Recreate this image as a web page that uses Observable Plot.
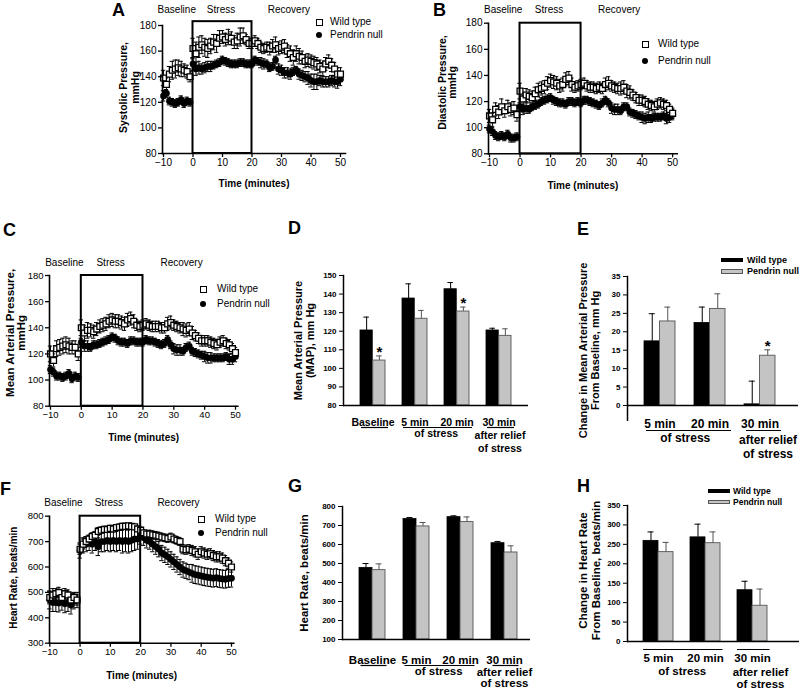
<!DOCTYPE html>
<html><head><meta charset="utf-8">
<script src="https://cdn.jsdelivr.net/npm/d3@7"></script>
<script src="https://cdn.jsdelivr.net/npm/@observablehq/plot@0.6"></script>
<style>
html,body{margin:0;padding:0;background:#fff;}
#fig{position:relative;width:800px;height:690px;overflow:hidden;background:#fff;font-family:"Liberation Sans",Arial,Helvetica,sans-serif;color:#000;}
#fig .p{position:absolute;}
#fig .t{position:absolute;white-space:nowrap;color:#000;}
</style></head><body><div id="fig"></div>
<script>
// ---------------- data ----------------
const time = [-10,-9,-8,-7,-6,-5,-4,-3,-2,-1,0,1,2,3,4,5,6,7,8,9,10,11,12,13,14,15,16,17,18,19,20,21,22,23,24,25,26,27,28,29,30,31,32,33,34,35,36,37,38,39,40,41,42,43,44,45,46,47,48,49,50];
const stressWindow = [0, 20];
const phaseLabels = ["Baseline", "Stress", "Recovery"];
const phaseX = [-5.5, 9.5, 32.5];
const timeTicks = [-10, 0, 10, 20, 30, 40, 50];
const xTitle = "Time (minutes)";
const seriesNames = ["Wild type", "Pendrin null"];

// A: systolic pressure
const sysWT = [139,134,142,145,146,147,146,145,144,140,162,158,163,165,163,162,164,167,166,170,171,169,171,170,167,168,171,172,169,166,166,168,166,163,162,163,162,164,165,162,163,164,160,158,155,158,156,155,152,153,152,151,150,148,146,150,152,149,146,142,142];
const sysWTse = [6,5,6,7,7,6,6,5,5,4,8,9,8,7,7,7,6,6,7,6,5,5,6,5,5,6,7,6,4,4,4,4,4,4,4,4,5,5,6,5,5,5,5,6,6,6,6,5,5,5,5,5,5,5,5,5,5,5,5,5,5];
const sysKO = [125,127,121,120,119,120,122,119,121,120,150,146,147,146,147,148,148,149,150,151,153,152,151,150,150,150,151,151,150,150,150,153,152,151,150,150,147,148,153,146,145,143,143,142,144,145,142,141,140,139,137,136,136,137,136,136,136,137,136,136,138];
const sysKOse = [4,3,3,3,3,3,3,3,3,3,5,5,5,4,4,4,4,3,3,3,3,3,3,3,3,3,3,3,3,3,3,3,3,4,4,3,3,3,3,4,4,4,4,4,3,3,4,4,4,5,5,6,6,4,4,4,4,4,4,5,5];

// B: diastolic pressure
const diaWT = [109,106,114,112,116,113,116,114,115,110,128,122,125,124,123,126,129,130,131,134,136,135,134,132,133,137,138,133,131,132,133,134,132,131,131,130,131,130,133,134,132,131,130,130,131,128,127,125,123,121,121,120,118,117,116,118,119,118,117,114,111];
const diaWTse = [5,5,5,5,6,5,5,5,5,5,6,5,5,5,5,5,5,5,5,5,5,5,5,5,5,5,5,5,4,4,4,4,4,4,4,4,4,4,5,5,4,4,4,5,5,5,5,4,4,4,4,4,4,4,4,4,4,4,4,4,4];
const diaKO = [99,97,94,93,94,93,95,92,92,93,116,114,115,114,116,117,118,120,121,122,123,121,120,119,119,118,120,120,119,120,119,121,121,120,119,118,117,119,121,119,115,114,114,113,116,116,112,111,110,109,108,107,108,107,108,108,108,109,107,108,110];
const diaKOse = [3,3,3,3,3,3,3,3,3,3,3,4,4,3,3,3,3,3,3,3,3,3,3,3,3,3,3,3,3,3,3,3,3,3,3,3,3,3,3,3,4,4,4,3,3,3,3,3,3,3,4,4,4,3,3,3,3,3,4,4,4];

// C: mean arterial pressure
const mapWT = [120,115,124,125,126,127,126,125,125,120,140,136,138,138,137,139,141,142,143,145,146,145,145,144,143,146,147,145,142,141,142,143,142,141,141,141,140,140,143,144,142,141,140,139,138,139,136,134,132,130,130,130,129,128,127,129,130,128,127,124,121];
const mapWTse = [6,5,6,6,6,6,6,5,5,5,6,6,6,5,5,5,5,5,5,5,5,5,5,5,5,5,5,5,4,4,4,4,4,4,4,4,4,4,5,5,4,4,4,5,5,5,5,4,4,4,4,4,4,4,4,4,4,4,4,4,4];
const mapKO = [108,106,103,103,102,103,105,101,103,102,129,126,126,125,127,127,128,129,130,131,133,132,130,129,129,128,130,130,129,129,129,131,130,130,129,128,127,128,131,127,124,123,123,122,125,126,122,121,120,119,118,117,117,117,117,117,117,118,116,116,118];
const mapKOse = [3,3,3,3,3,3,3,3,3,3,3,4,4,3,3,3,3,3,3,3,3,3,3,3,3,3,3,3,3,3,3,3,3,3,3,3,3,3,3,3,4,4,4,3,3,3,3,3,3,3,4,4,4,3,3,3,3,3,4,4,4];

// F: heart rate
const hrWT = [480,490,495,500,480,495,490,470,480,470,670,690,700,710,720,725,740,745,748,748,752,750,755,757,760,760,762,760,758,750,745,735,730,730,727,725,722,718,715,712,718,710,705,700,670,668,670,665,660,650,660,655,650,652,645,640,640,635,625,615,600];
const hrWTse = [25,25,20,20,22,20,20,25,20,20,20,20,18,15,15,15,15,12,12,12,12,12,12,12,12,12,10,10,10,10,12,12,12,15,15,15,15,15,15,15,15,15,15,15,18,18,18,20,20,20,20,20,20,20,20,20,20,20,20,20,20];
const hrKO = [470,460,460,458,465,455,460,450,465,470,665,685,690,695,690,700,680,700,700,705,700,705,700,705,700,705,700,705,710,710,720,715,705,700,690,680,670,655,648,640,630,620,610,600,590,585,580,575,570,568,565,562,560,558,556,558,555,553,552,555,556];
const hrKOse = [35,35,35,35,35,35,35,35,30,30,30,30,30,30,35,35,35,40,40,40,40,40,40,40,45,45,45,45,45,40,30,30,30,30,30,30,30,30,30,30,30,30,30,30,30,30,30,35,35,35,35,35,35,35,35,35,35,35,35,35,35];

// bar charts
const periods4 = ["Baseline", "5 min", "20 min", "30 min"];
const periods3 = ["5 min", "20 min", "30 min"];
const stressSub = "of stress";
const reliefSub = "after relief\nof stress";

// D: MAP
const mapBarWT = [120.4, 137.6, 142.6, 120.4];
const mapBarWTse = [7.2, 7.9, 3.6, 1.2];
const mapBarKO = [104.2, 126.7, 130.6, 117.5];
const mapBarKOse = [2.5, 4.5, 2.4, 3.8];
const mapBarSig = [true, false, true, false];
// E: change in MAP
const dMapWT = [17.4, 22.4, 0.3];
const dMapWTse = [7.5, 4.3, 6.3];
const dMapKO = [22.8, 26.2, 13.5];
const dMapKOse = [3.9, 4.1, 1.6];
const dMapSig = [false, false, true];
// G: heart rate
const hrBarWT = [477, 734, 744, 607];
const hrBarWTse = [23, 8, 7, 9];
const hrBarKO = [465, 695, 718, 558];
const hrBarKOse = [33, 21, 27, 35];
const hrBarSig = [false, false, false, false];
// H: change in heart rate
const dHrWT = [259, 268, 132];
const dHrWTse = [23, 34, 23];
const dHrKO = [230, 253, 92];
const dHrKOse = [25, 29, 43];
const dHrSig = [false, false, false];

// ---------------- helpers ----------------
const FONT = '"Liberation Sans", Arial, Helvetica, sans-serif';
const fig = document.getElementById("fig");
function place(node, left, top, w) {
  const d = document.createElement("div");
  d.className = "p";
  d.style.left = left + "px"; d.style.top = top + "px"; d.style.width = w + "px";
  d.appendChild(node); fig.appendChild(d);
}
function label(text, x, yc, fs, bold) {
  const d = document.createElement("div");
  d.className = "t";
  d.textContent = text;
  d.style.left = x + "px";
  d.style.top = (yc - 0.49 * fs) + "px";
  d.style.fontSize = fs + "px";
  d.style.lineHeight = fs + "px";
  d.style.fontWeight = bold ? "bold" : "normal";
  fig.appendChild(d);
}
function box(x, y, w, h, css) {
  const d = document.createElement("div");
  d.style.cssText = `position:absolute;left:${x}px;top:${y}px;width:${w}px;height:${h}px;box-sizing:border-box;${css}`;
  fig.appendChild(d);
}
function tsLegend(x, y1, y2, tx) {
  box(x - 3.5, y1 - 3.5, 7, 7, "border:1.4px solid #000;background:#fff;");
  box(x - 3.4, y2 - 3.4, 6.8, 6.8, "border-radius:50%;background:#000;");
  label(seriesNames[0], tx, y1, 10, false);
  label(seriesNames[1], tx, y2, 10, false);
}
function barLegend(x, y1, y2, tx, fs) {
  box(x, y1 - 2.4, 22, 4.8, "background:#000;");
  box(x, y2 - 2.4, 22, 4.8, "background:#c4c4c4;border:1px solid #555;");
  label(seriesNames[0], tx, y1, fs, true);
  label(seriesNames[1], tx, y2, fs, true);
}
const baseStyle = {fontFamily: FONT, fontSize: "10px", color: "#000", background: "transparent", overflow: "visible"};

function timePanel(c) {
  const rows = time.map((t, i) => ({t, wt: c.wt[i], wtSe: c.wtSe[i], ko: c.ko[i], koSe: c.koSe[i]}));
  const err = (k, s) => [
    Plot.ruleX(rows, {x: "t", y1: d => d[k] - d[s], y2: d => d[k] + d[s], stroke: "#000", strokeWidth: 1}),
    Plot.ruleY(rows, {x1: "t", x2: "t", y: d => d[k] + d[s], insetLeft: -2.2, insetRight: -2.2, stroke: "#000", strokeWidth: 1}),
    Plot.ruleY(rows, {x1: "t", x2: "t", y: d => d[k] - d[s], insetLeft: -2.2, insetRight: -2.2, stroke: "#000", strokeWidth: 1})
  ];
  const svg = Plot.plot({
    width: c.w, height: c.h,
    marginLeft: c.ml, marginRight: c.mr, marginTop: c.mt, marginBottom: c.mb,
    x: {domain: c.xd}, y: {domain: c.yd},
    style: baseStyle,
    marks: [
      ...err("ko", "koSe"),
      ...err("wt", "wtSe"),
      Plot.dot(rows, {x: "t", y: "ko", r: 3.2, fill: "#000", stroke: "#000", strokeWidth: 0.4}),
      Plot.dot(rows, {x: "t", y: "wt", symbol: "square", r: 3.3, fill: "#fff", stroke: "#000", strokeWidth: 1.3}),
      Plot.rect([stressWindow], {x1: d => d[0], x2: d => d[1], y1: () => c.yd[0], y2: () => c.boxTop, fill: "none", stroke: "#000", strokeWidth: 2}),
      Plot.frame({anchor: "left", strokeWidth: 1.6}),
      Plot.frame({anchor: "bottom", strokeWidth: 1.6}),
      Plot.axisY({ticks: c.yTicks, tickSize: 4, tickPadding: 2, fontSize: c.tfs, label: null, strokeWidth: 1.3}),
      Plot.axisX({ticks: timeTicks, tickSize: 4, tickPadding: 1, fontSize: c.tfs, label: null, strokeWidth: 1.3}),
      Plot.text(phaseLabels, {x: (d, i) => phaseX[i], text: d => d, frameAnchor: "top", dy: c.phaseDy, lineAnchor: "middle", fontSize: 10}),
      Plot.text([xTitle], {text: d => d, frameAnchor: "bottom", dy: c.xtDy, lineAnchor: "middle", fontWeight: "bold", fontSize: 10}),
      Plot.text([c.yTitle], {text: d => d, frameAnchor: "left", rotate: -90, textAnchor: "middle", lineAnchor: "middle", dx: c.ytDx, dy: c.ytDy, fontWeight: "bold", fontSize: c.ytFs, lineHeight: c.ytLh})
    ]
  });
  place(svg, c.left, c.top, c.w);
  tsLegend(c.lx, c.ly1, c.ly2, c.ltx);
}

function barPanel(c) {
  const rows = c.groups.map((g, i) => ({g, wt: c.wt[i], wtSe: c.wtSe[i], ko: c.ko[i], koSe: c.koSe[i], sig: c.sig[i]}));
  const band = d3.scaleBand().domain(c.groups).range([c.ml, c.w - c.mr]).paddingInner(c.pi).paddingOuter(c.po).align(c.al);
  const bw = band.bandwidth(), step = band.step();
  const half = bw / 2, q = bw / 4, cap = 3;
  const svg = Plot.plot({
    width: c.w, height: c.h,
    marginLeft: c.ml, marginRight: c.mr, marginTop: c.mt, marginBottom: c.mb,
    x: {domain: c.groups, paddingInner: c.pi, paddingOuter: c.po, align: c.al},
    y: {domain: c.yd, clamp: c.clamp},
    style: baseStyle,
    marks: [
      Plot.barY(rows, {x: "g", y: "wt", insetLeft: 0, insetRight: half, fill: "#000", stroke: "#000", strokeWidth: 0.8}),
      Plot.barY(rows, {x: "g", y: "ko", insetLeft: half, insetRight: 0, fill: "#c4c4c4", stroke: "#555", strokeWidth: 0.9}),
      Plot.ruleX(rows, {x: "g", y1: "wt", y2: d => d.wt + d.wtSe, dx: -q, stroke: "#000", strokeWidth: 1}),
      Plot.ruleY(rows, {x1: "g", x2: "g", y: d => d.wt + d.wtSe, insetLeft: q - cap, insetRight: bw - q - cap, stroke: "#000", strokeWidth: 1}),
      Plot.ruleX(rows, {x: "g", y1: "ko", y2: d => d.ko + d.koSe, dx: q, stroke: "#555", strokeWidth: 1}),
      Plot.ruleY(rows, {x1: "g", x2: "g", y: d => d.ko + d.koSe, insetLeft: bw - q - cap, insetRight: q - cap, stroke: "#555", strokeWidth: 1}),
      Plot.text(rows.filter(d => d.sig), {x: "g", y: d => d.ko + d.koSe, text: () => "*", dx: q, dy: -4, lineAnchor: "middle", fontSize: 15, fontWeight: "bold"}),
      Plot.ruleY([c.base], {y: d => d, stroke: "#000", strokeWidth: 1.5}),
      Plot.frame({anchor: "left", strokeWidth: 1.5}),
      Plot.axisY({ticks: c.yTicks, tickSize: 4, tickPadding: 3, fontSize: 8, fontWeight: "bold", label: null}),
      Plot.axisX({tickSize: 0, tickPadding: c.xtp, fontSize: c.xfs, fontWeight: "bold", label: null}),
      Plot.text([stressSub], {x: () => c.groups[c.stressIdx], text: d => d, frameAnchor: "bottom", dx: step / 2, dy: c.subDy, lineAnchor: "top", fontSize: c.xfs, fontWeight: "bold"}),
      Plot.text([reliefSub], {x: () => c.groups[c.groups.length - 1], text: d => d, frameAnchor: "bottom", dx: c.reliefDx, dy: c.subDy, lineAnchor: "top", lineHeight: c.lh, fontSize: c.xfs, fontWeight: "bold"}),
      Plot.ruleY(c.lines, {x1: d => c.groups[d[0]], x2: d => c.groups[d[1]], y: () => c.yd[0], dy: c.lineDy, insetLeft: c.liL, insetRight: c.liR, stroke: "#000", strokeWidth: 1.2}),
      Plot.text([c.yTitle], {text: d => d, frameAnchor: "left", rotate: -90, textAnchor: "middle", lineAnchor: "middle", dx: c.ytDx, dy: c.ytDy, fontWeight: "bold", fontSize: c.ytFs, lineHeight: 1.09})
    ]
  });
  place(svg, c.left, c.top, c.w);
}

// ---------------- panels ----------------
const pTicks = [80, 100, 120, 140, 160, 180];
timePanel({left: 100, top: 0, w: 260, h: 200, ml: 62, mr: 15, mt: 25, mb: 47,
  xd: [-10.34, 51.7], yd: [80, 180], boxTop: 183, yTicks: pTicks, tfs: 10,
  wt: sysWT, wtSe: sysWTse, ko: sysKO, koSe: sysKOse,
  phaseDy: -16, xtDy: 30, yTitle: "Systolic Pressure,\nmmHg", ytDx: -33, ytDy: -2, ytFs: 10.5, ytLh: 1.15,
  lx: 319, ly1: 22, ly2: 35, ltx: 330});
timePanel({left: 400, top: 0, w: 300, h: 200, ml: 88, mr: 23.3, mt: 22.7, mb: 46.7,
  xd: [-10.33, 51.5], yd: [80, 180], boxTop: 180, yTicks: pTicks, tfs: 10,
  wt: diaWT, wtSe: diaWTse, ko: diaKO, koSe: diaKOse,
  phaseDy: -13, xtDy: 31.7, yTitle: "Diastolic Pressure,\nmmHg", ytDx: -41, ytDy: -6, ytFs: 10.5, ytLh: 1.0,
  lx: 645, ly1: 44, ly2: 61, ltx: 658});
timePanel({left: 0, top: 210, w: 270, h: 240, ml: 49, mr: 32.7, mt: 65, mb: 44.3,
  xd: [-10.32, 50.75], yd: [80, 180], boxTop: 180, yTicks: pTicks, tfs: 9.5,
  wt: mapWT, wtSe: mapWTse, ko: mapKO, koSe: mapKOse,
  phaseDy: -13, xtDy: 31.3, yTitle: "Mean Arterial Pressure,\nmmHg", ytDx: -33.5, ytDy: -8, ytFs: 11.5, ytLh: 1.0,
  lx: 203, ly1: 289, ly2: 304, ltx: 217});
timePanel({left: 0, top: 450, w: 270, h: 240, ml: 49, mr: 36.7, mt: 65.7, mb: 47.3,
  xd: [-10.1, 50.76], yd: [300, 800], boxTop: 800, yTicks: [300, 400, 500, 600, 700, 800], tfs: 9.5,
  wt: hrWT, wtSe: hrWTse, ko: hrKO, koSe: hrKOse,
  phaseDy: -13, xtDy: 32.3, yTitle: "Heart Rate, beats/min", ytDx: -36, ytDy: -2, ytFs: 10, ytLh: 1.0,
  lx: 201, ly1: 519, ly2: 533, ltx: 215});

barPanel({left: 270, top: 210, w: 260, h: 260, ml: 73, mr: 2, mt: 65, mb: 65,
  groups: periods4, wt: mapBarWT, wtSe: mapBarWTse, ko: mapBarKO, koSe: mapBarKOse, sig: mapBarSig,
  pi: 0.40, po: 0.378, al: 0.51, yd: [80, 150], clamp: true, base: 80, yTicks: [80, 90, 100, 110, 120, 130, 140, 150],
  xtp: 13, xfs: 10.5, stressIdx: 1, subDy: 24.3, lh: 1.24, reliefDx: 1,
  lines: [[0, 0], [1, 2], [3, 3]], lineDy: 22, liL: 1, liR: -3,
  yTitle: "Mean Arterial Pressure\n(MAP), mm Hg", ytDx: -39, ytDy: 0, ytFs: 11});
barPanel({left: 530, top: 210, w: 270, h: 260, ml: 97, mr: 2, mt: 66, mb: 50.3,
  groups: periods3, wt: dMapWT, wtSe: dMapWTse, ko: dMapKO, koSe: dMapKOse, sig: dMapSig,
  pi: 0.386, po: 0.386, al: 0.42, yd: [-4, 35], clamp: false, base: 0, yTicks: [0, 5, 10, 15, 20, 25, 30, 35],
  xtp: -1, xfs: 12, stressIdx: 0, subDy: 13.1, lh: 1.2, reliefDx: 8,
  lines: [[0, 1], [2, 2]], lineDy: 10.3, liL: 2, liR: -6,
  yTitle: "Change in Mean Arterial Pressure\nFrom Baseline, mm Hg", ytDx: -38, ytDy: 2, ytFs: 11});
barPanel({left: 270, top: 450, w: 260, h: 240, ml: 72, mr: 0, mt: 56, mb: 51,
  groups: periods4, wt: hrBarWT, wtSe: hrBarWTse, ko: hrBarKO, koSe: hrBarKOse, sig: hrBarSig,
  pi: 0.413, po: 0.328, al: 0.58, yd: [100, 800], clamp: true, base: 100, yTicks: [100, 200, 300, 400, 500, 600, 700, 800],
  xtp: 16, xfs: 11.5, stressIdx: 1, subDy: 27.5, lh: 1.04, reliefDx: 0,
  lines: [[0, 0], [1, 2], [3, 3]], lineDy: 26, liL: 1.5, liR: -1.5,
  yTitle: "Heart Rate, beats/min", ytDx: -39, ytDy: 0, ytFs: 11.5});
barPanel({left: 530, top: 450, w: 270, h: 240, ml: 97, mr: 1, mt: 55, mb: 49,
  groups: periods3, wt: dHrWT, wtSe: dHrWTse, ko: dHrKO, koSe: dHrKOse, sig: dHrSig,
  pi: 0.368, po: 0.495, al: 0.34, yd: [0, 350], clamp: false, base: 0, yTicks: [0, 50, 100, 150, 200, 250, 300, 350],
  xtp: 12.8, xfs: 11.5, stressIdx: 0, subDy: 25.5, lh: 1.06, reliefDx: 8,
  lines: [[0, 1], [2, 2]], lineDy: 8, liL: 0, liR: -2.5,
  yTitle: "Change in Heart Rate\nFrom Baseline, beats/min", ytDx: -38, ytDy: -3, ytFs: 11.5});

barLegend(721, 260, 271.3, 747, 9);
barLegend(708, 491, 502, 733, 8.5);

// panel letters
[["A", 112, 10], ["B", 433, 10], ["C", 3, 229.5], ["D", 288, 227.5], ["E", 577, 228.5], ["F", 0, 488.5], ["G", 288, 486], ["H", 577, 486]]
  .forEach(([t, x, y]) => label(t, x, y, 18, true));
</script></body></html>
